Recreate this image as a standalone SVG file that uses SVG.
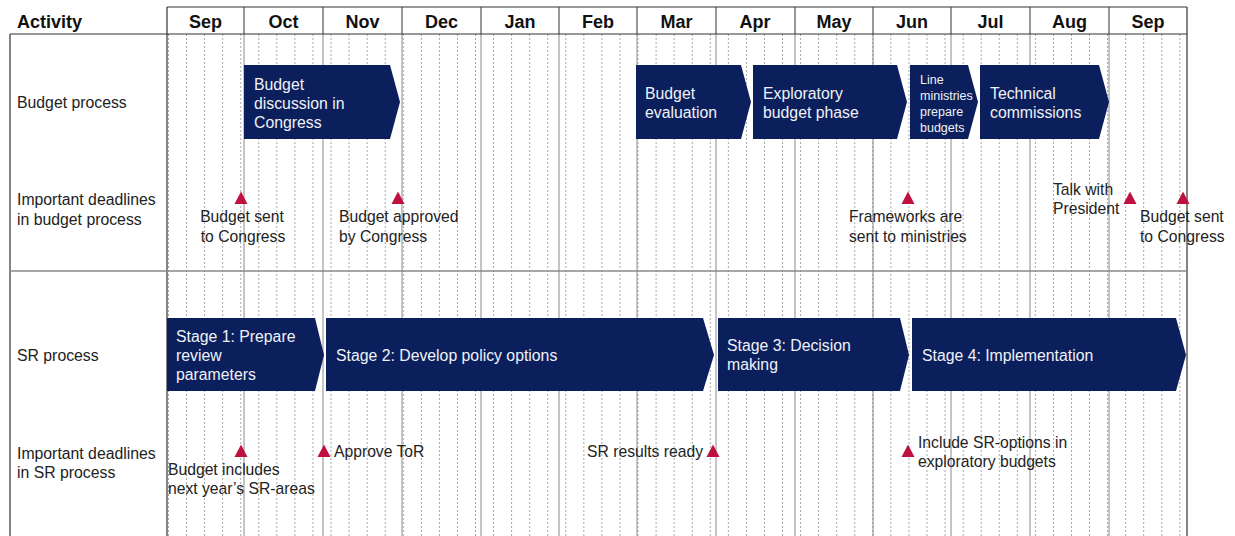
<svg xmlns="http://www.w3.org/2000/svg" width="1235" height="536" viewBox="0 0 1235 536">
<style>
text{font-family:"Liberation Sans",Arial,sans-serif;}
.hd{font-size:18px;font-weight:bold;fill:#111;}
.mo{font-size:18px;font-weight:bold;fill:#111;text-anchor:middle;}
.lb{font-size:15.8px;fill:#222;}
.dl{font-size:15.7px;fill:#222;}
.bx{fill:#0b1f5c;}
.bt{font-size:15.8px;fill:#f0f2f8;}
.sm{font-size:12.5px;fill:#f0f2f8;}
.tri{fill:#c0103f;}
.ml{stroke:#8a8a8a;stroke-width:1;}
.hl{stroke:#555;stroke-width:1.2;}
.bd{stroke:#333;stroke-width:1.2;fill:none;}
</style>
<defs>
<pattern id="wk" patternUnits="userSpaceOnUse" x="168" y="34" width="18.06" height="4">
<line x1="0.5" y1="0" x2="0.5" y2="2" stroke="#9a9a9a" stroke-width="0.9"/>
</pattern>
</defs>
<rect x="0" y="0" width="1235" height="536" fill="#ffffff"/>

<g id="grid">
<rect x="167" y="34" width="1020" height="502" fill="url(#wk)"/>
<g class="ml">
<line x1="244" y1="34" x2="244" y2="536"/>
<line x1="323" y1="34" x2="323" y2="536"/>
<line x1="402" y1="34" x2="402" y2="536"/>
<line x1="481" y1="34" x2="481" y2="536"/>
<line x1="559" y1="34" x2="559" y2="536"/>
<line x1="637" y1="34" x2="637" y2="536"/>
<line x1="716" y1="34" x2="716" y2="536"/>
<line x1="795" y1="34" x2="795" y2="536"/>
<line x1="873" y1="34" x2="873" y2="536"/>
<line x1="951" y1="34" x2="951" y2="536"/>
<line x1="1030" y1="34" x2="1030" y2="536"/>
<line x1="1109" y1="34" x2="1109" y2="536"/>
</g>
<g class="hl">
<line x1="244" y1="7" x2="244" y2="34"/>
<line x1="323" y1="7" x2="323" y2="34"/>
<line x1="402" y1="7" x2="402" y2="34"/>
<line x1="481" y1="7" x2="481" y2="34"/>
<line x1="559" y1="7" x2="559" y2="34"/>
<line x1="637" y1="7" x2="637" y2="34"/>
<line x1="716" y1="7" x2="716" y2="34"/>
<line x1="795" y1="7" x2="795" y2="34"/>
<line x1="873" y1="7" x2="873" y2="34"/>
<line x1="951" y1="7" x2="951" y2="34"/>
<line x1="1030" y1="7" x2="1030" y2="34"/>
<line x1="1109" y1="7" x2="1109" y2="34"/>
</g>
<g class="bd">
<line x1="167" y1="7" x2="1187" y2="7"/>
<line x1="10" y1="34" x2="1187" y2="34"/>
<line x1="10" y1="34" x2="10" y2="536"/>
<line x1="167" y1="7" x2="167" y2="536"/>
<line x1="1187" y1="7" x2="1187" y2="536"/>
</g>
<line x1="10" y1="271" x2="1187" y2="271" stroke="#8a8a8a" stroke-width="1.5"/>
</g>

<g id="header">
<text class="hd" x="17" y="27.5">Activity</text>
<text class="mo" x="205.5" y="27.5">Sep</text>
<text class="mo" x="283.5" y="27.5">Oct</text>
<text class="mo" x="362.5" y="27.5">Nov</text>
<text class="mo" x="441.5" y="27.5">Dec</text>
<text class="mo" x="520" y="27.5">Jan</text>
<text class="mo" x="598" y="27.5">Feb</text>
<text class="mo" x="676.5" y="27.5">Mar</text>
<text class="mo" x="755" y="27.5">Apr</text>
<text class="mo" x="834" y="27.5">May</text>
<text class="mo" x="912" y="27.5">Jun</text>
<text class="mo" x="990.5" y="27.5">Jul</text>
<text class="mo" x="1069.5" y="27.5">Aug</text>
<text class="mo" x="1148" y="27.5">Sep</text>
</g>

<g id="row-labels">
<text class="lb" x="17" y="107.5">Budget process</text>
<text class="lb" x="17" y="204.5">Important deadlines</text>
<text class="lb" x="17" y="224.5">in budget process</text>
<text class="lb" x="17" y="360.5">SR process</text>
<text class="lb" x="17" y="458.5">Important deadlines</text>
<text class="lb" x="17" y="477.5">in SR process</text>
</g>

<g id="budget-discussion">
<polygon class="bx" points="244,65 390,65 400,102 390,139 244,139"/>
<text class="bt" x="254" y="89.5">Budget</text>
<text class="bt" x="254" y="108.5">discussion in</text>
<text class="bt" x="254" y="127.5">Congress</text>
</g>
<g id="budget-evaluation">
<polygon class="bx" points="636,65 741,65 751,102 741,139 636,139"/>
<text class="bt" x="645" y="98.5">Budget</text>
<text class="bt" x="645" y="117.5">evaluation</text>
</g>
<g id="exploratory-budget">
<polygon class="bx" points="753,65 897,65 907,102 897,139 753,139"/>
<text class="bt" x="763" y="98.5">Exploratory</text>
<text class="bt" x="763" y="117.5">budget phase</text>
</g>
<g id="line-ministries">
<polygon class="bx" points="910,65 968,65 978,102 968,139 910,139"/>
<text class="sm" x="920" y="83.5">Line</text>
<text class="sm" x="920" y="99.5">ministries</text>
<text class="sm" x="920" y="115.5">prepare</text>
<text class="sm" x="920" y="131.5">budgets</text>
</g>
<g id="technical-commissions">
<polygon class="bx" points="980,65 1099,65 1109,102 1099,139 980,139"/>
<text class="bt" x="990" y="98.5">Technical</text>
<text class="bt" x="990" y="117.5">commissions</text>
</g>

<g id="stage1">
<polygon class="bx" points="167,318 315,318 324,355 315,391 167,391"/>
<text class="bt" x="176" y="341.5">Stage 1: Prepare</text>
<text class="bt" x="176" y="360.5">review</text>
<text class="bt" x="176" y="379.5">parameters</text>
</g>
<g id="stage2">
<polygon class="bx" points="326,318 703,318 714,355 703,391 326,391"/>
<text class="bt" x="336" y="360.5">Stage 2: Develop policy options</text>
</g>
<g id="stage3">
<polygon class="bx" points="718,318 900,318 909,355 900,391 718,391"/>
<text class="bt" x="727" y="350.5">Stage 3: Decision</text>
<text class="bt" x="727" y="369.5">making</text>
</g>
<g id="stage4">
<polygon class="bx" points="912,318 1176,318 1186,355 1176,391 912,391"/>
<text class="bt" x="922" y="360.5">Stage 4: Implementation</text>
</g>

<g id="budget-deadlines">
<g id="bd-sent1">
<polygon class="tri" points="241,191.5 234.5,204 247.5,204"/>
<text class="dl" x="242" y="221.5" text-anchor="middle">Budget sent</text>
<text class="dl" x="243" y="241.5" text-anchor="middle">to Congress</text>
</g>
<g id="bd-approved">
<polygon class="tri" points="398,191.5 391.5,204 404.5,204"/>
<text class="dl" x="339" y="221.5">Budget approved</text>
<text class="dl" x="339" y="241.5">by Congress</text>
</g>
<g id="bd-frameworks">
<polygon class="tri" points="908,191.5 901.5,204 914.5,204"/>
<text class="dl" x="849" y="221.5">Frameworks are</text>
<text class="dl" x="849" y="241.5">sent to ministries</text>
</g>
<g id="bd-president">
<polygon class="tri" points="1130,191.5 1123.5,204 1136.5,204"/>
<text class="dl" x="1053" y="194.5">Talk with</text>
<text class="dl" x="1053" y="213.5">President</text>
</g>
<g id="bd-sent2">
<polygon class="tri" points="1183,191.5 1176.5,204 1189.5,204"/>
<text class="dl" x="1140" y="221.5">Budget sent</text>
<text class="dl" x="1140" y="241.5">to Congress</text>
</g>
</g>

<g id="sr-deadlines">
<g id="sr-includes">
<polygon class="tri" points="241,444.5 234.5,457 247.5,457"/>
<text class="dl" x="168" y="474.5">Budget includes</text>
<text class="dl" x="168" y="493.5">next year’s SR-areas</text>
</g>
<g id="sr-tor">
<polygon class="tri" points="324,444.5 317.5,457 330.5,457"/>
<text class="dl" x="334" y="456.5">Approve ToR</text>
</g>
<g id="sr-results">
<polygon class="tri" points="713,444.5 706.5,457 719.5,457"/>
<text class="dl" x="703" y="456.5" text-anchor="end">SR results ready</text>
</g>
<g id="sr-options">
<polygon class="tri" points="908,444.5 901.5,457 914.5,457"/>
<text class="dl" x="918" y="447.5">Include SR-options in</text>
<text class="dl" x="918" y="466.5">exploratory budgets</text>
</g>
</g>

<g id="connectors"></g>
</svg>
